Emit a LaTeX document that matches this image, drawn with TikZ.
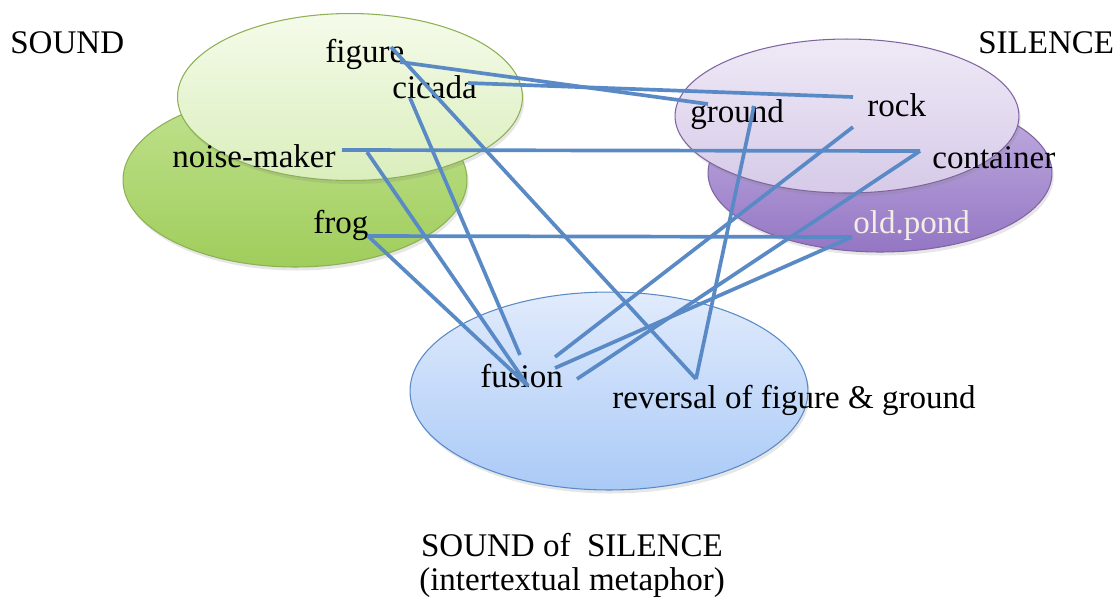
\documentclass[tikz,border=0pt]{standalone}
\usepackage{fontspec}
\setmainfont{Liberation Serif}
\usepackage{tikz}
\usetikzlibrary{calc,shadows}

\definecolor{linkblue}{HTML}{5A8AC6}
\definecolor{pondtext}{HTML}{F2EEE6}

\tikzset{
  lbl/.style={font=\fontsize{18.8}{22}\selectfont, inner sep=0pt, anchor=base west},
  link/.style={draw=linkblue, line width=2.1pt},
  blob/.style={line width=0.6pt, drop shadow={opacity=0.2, shadow xshift=1pt, shadow yshift=-2pt}},
}

\begin{document}
\begin{tikzpicture}[x=0.02cm, y=-0.02cm]
    \useasboundingbox (0,0) rectangle (1117,600);

    % Sound
    \shade[blob, draw={rgb,255:red,140;green,176;blue,82}, top color={rgb,255:red,192;green,226;blue,142}, bottom color={rgb,255:red,160;green,205;blue,92}]
        (295,180) ellipse [x radius=3.44cm, y radius=1.74cm];
    \shade[blob, draw={rgb,255:red,140;green,176;blue,82}, top color={rgb,255:red,245;green,251;blue,234}, bottom color={rgb,255:red,218;green,238;blue,188}]
        (350,97) ellipse [x radius=3.45cm, y radius=1.67cm];

    % Silence
    \shade[blob, draw={rgb,255:red,128;green,100;blue,162}, top color={rgb,255:red,196;green,178;blue,226}, bottom color={rgb,255:red,148;green,118;blue,196}]
        (880,173) ellipse [x radius=3.44cm, y radius=1.58cm];
    \shade[blob, draw={rgb,255:red,128;green,100;blue,162}, top color={rgb,255:red,239;green,233;blue,246}, bottom color={rgb,255:red,214;green,202;blue,232}]
        (847,116) ellipse [x radius=3.44cm, y radius=1.54cm];

    % Sound of silence
    \shade[blob, draw=linkblue, top color={rgb,255:red,225;green,235;blue,252}, bottom color={rgb,255:red,170;green,202;blue,247}]
        (609,391) ellipse [x radius=3.98cm, y radius=1.98cm];

    % Labels
    \node[lbl] (sound) at (10,53) {SOUND};
    \node[lbl] (silence) at (978,53) {SILENCE};
    \node[lbl] (figure) at (325,62) {figure};
    \node[lbl] (cicada) at (392,98) {cicada};
    \node[lbl] (noisemaker) at (172,167) {noise-maker};
    \node[lbl] (frog) at (313,233) {frog};
    \node[lbl] (ground) at (690,122) {ground};
    \node[lbl] (rock) at (867,116) {rock};
    \node[lbl] (container) at (932,168) {container};
    \node[lbl, text=pondtext] (oldpond) at (853,233) {old.pond};
    \node[lbl] (fusion) at (480,387) {fusion};
    \node[lbl] (reversal) at (612,408) {reversal of figure \& ground};
    \node[lbl, anchor=base] (caption) at (572,556) {SOUND of\ \ SILENCE};
    \node[lbl, anchor=base] (metaphor) at (572,590) {(intertextual metaphor)};

    % Links
    \draw[link] ($(figure.base west)+(75,0)$) -- ($(ground.base west)+(18,-18)$);
    \draw[link] ($(figure.base west)+(66,-15)$) -- ($(reversal.base west)+(84,-29)$);
    \draw[link] ($(cicada.base west)+(76,-15)$) -- ($(rock.base west)+(-14,-19)$);
    \draw[link] ($(cicada.base west)+(18,0)$) -- ($(fusion.base west)+(40,-32)$);
    \draw[link] ($(noisemaker.base west)+(170,-17)$) -- ($(container.base west)+(-12,-17)$);
    \draw[link] ($(noisemaker.base west)+(195,-15)$) -- ($(fusion.base west)+(48,-1)$);
    \draw[link] ($(frog.base west)+(55,3)$) -- ($(oldpond.base west)+(-1,4)$);
    \draw[link] ($(frog.base west)+(55,3)$) -- ($(fusion.base west)+(48,-1)$);
    \draw[link] ($(ground.base west)+(64,-16)$) -- ($(reversal.base west)+(84,-29)$);
    \draw[link] ($(rock.base west)+(-14,11)$) -- ($(fusion.base west)+(75,-30)$);
    \draw[link] ($(container.base west)+(-12,-17)$) -- ($(fusion.base west)+(97,-8)$);
    \draw[link] ($(oldpond.base west)+(-1,4)$) -- ($(fusion.base west)+(75,-19)$);
\end{tikzpicture}
\end{document}
